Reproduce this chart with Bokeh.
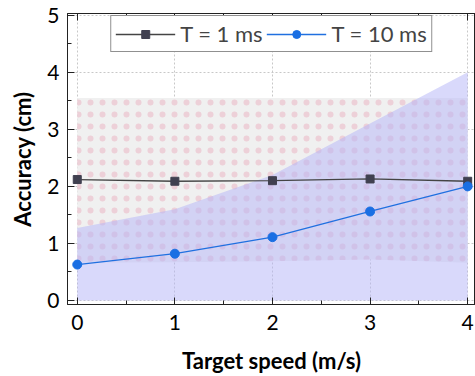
from bokeh.plotting import figure
from bokeh.models import (ColumnDataSource, Range1d, LinearAxis, Legend, LegendItem,
                          SingleIntervalTicker, CustomJSTickFormatter)
from bokeh.embed import file_html
from bokeh.resources import INLINE

speed = [0, 1, 2, 3, 4]
acc_1ms = [2.12, 2.09, 2.10, 2.13, 2.09]
acc_1ms_lo = [0.66, 0.67, 0.69, 0.72, 0.66]
acc_1ms_hi = [3.55, 3.55, 3.55, 3.55, 3.55]
acc_10ms = [0.63, 0.82, 1.11, 1.56, 2.00]
acc_10ms_lo = [0.0, 0.0, 0.0, 0.0, 0.0]
acc_10ms_hi = [1.27, 1.60, 2.20, 3.10, 4.00]

FONT = "Lato"

src = ColumnDataSource(dict(x=speed, y1=acc_1ms, lo1=acc_1ms_lo, hi1=acc_1ms_hi,
                            y10=acc_10ms, lo10=acc_10ms_lo, hi10=acc_10ms_hi))

p = figure(width=475, height=376, output_backend="svg", toolbar_location=None,
           x_range=Range1d(-0.1, 4.08), y_range=Range1d(-0.07, 5.03),
           min_border_left=67, min_border_right=0, min_border_top=13, min_border_bottom=72)
p.background_fill_color = "white"
p.border_fill_color = "white"
p.outline_line_color = "#222222"
p.outline_line_width = 1

# bands
p.varea(x="x", y1="lo1", y2="hi1", source=src, fill_color="#f0f0f0", fill_alpha=1.0,
        hatch_pattern="dot", hatch_color="#e890a8", hatch_scale=12, hatch_weight=1.0, hatch_alpha=0.33)
p.varea(x="x", y1="lo10", y2="hi10", source=src, fill_color="#b4b4f8", fill_alpha=0.5)

# lines
r1l = p.line(x="x", y="y1", source=src, line_color="#444444", line_width=1.3)
r1m = p.scatter(x="x", y="y1", source=src, marker="square", size=8,
                fill_color="#404050", line_color="#404050")
r10l = p.line(x="x", y="y10", source=src, line_color="#2070e0", line_width=1.3)
r10m = p.scatter(x="x", y="y10", source=src, marker="circle", size=9,
                 fill_color="#1a6fe3", line_color="#1a6fe3")

# axes styling
for ax in [p.xaxis[0], p.yaxis[0]]:
    ax.axis_line_color = "#222222"
    ax.major_tick_line_color = "#222222"
    ax.minor_tick_line_color = "#222222"
    ax.major_tick_in = 7
    ax.major_tick_out = 0
    ax.minor_tick_in = 4
    ax.minor_tick_out = 0
    ax.major_label_text_font = FONT
    ax.major_label_text_font_size = "21px"
    ax.major_label_text_color = "black"
    ax.axis_label_text_font = FONT
    ax.axis_label_text_font_style = "bold"
    ax.axis_label_text_font_size = "22px"
    ax.axis_label_text_color = "black"

p.xaxis[0].ticker = SingleIntervalTicker(interval=1, num_minor_ticks=2)
p.yaxis[0].ticker = SingleIntervalTicker(interval=1, num_minor_ticks=2)
p.xaxis[0].axis_label = "Target speed (m/s)"
p.yaxis[0].axis_label = "Accuracy (cm)"
p.xaxis[0].major_label_standoff = 10
p.xaxis[0].axis_label_standoff = 14
p.yaxis[0].major_label_standoff = 8
p.yaxis[0].axis_label_standoff = 8

top_ax = LinearAxis(ticker=SingleIntervalTicker(interval=1, num_minor_ticks=2),
                    formatter=CustomJSTickFormatter(code="return ''"),
                    major_tick_in=7, major_tick_out=0,
                    minor_tick_in=4, minor_tick_out=0, axis_line_color="#222222",
                    major_tick_line_color="#222222", minor_tick_line_color="#222222",
                    major_label_standoff=0)
p.add_layout(top_ax, "above")

p.xgrid.grid_line_color = "#c8c8c8"
p.xgrid.grid_line_dash = "2 2"
p.ygrid.grid_line_color = "#c8c8c8"
p.ygrid.grid_line_dash = "2 2"
p.xgrid.ticker = SingleIntervalTicker(interval=1)
p.ygrid.ticker = SingleIntervalTicker(interval=1)

legend = Legend(items=[LegendItem(label="T = 1 ms", renderers=[r1l, r1m]),
                       LegendItem(label="T = 10 ms", renderers=[r10l, r10m])],
                orientation="horizontal", location="top_center",
                label_text_font=FONT, label_text_font_size="22px",
                border_line_color="#222222", border_line_width=1.2,
                background_fill_color="white", background_fill_alpha=1.0,
                glyph_width=60, glyph_height=20, padding=4, spacing=4,
                label_standoff=5, margin=2)
p.add_layout(legend)

open("out.html", "w").write(file_html(p, INLINE))
